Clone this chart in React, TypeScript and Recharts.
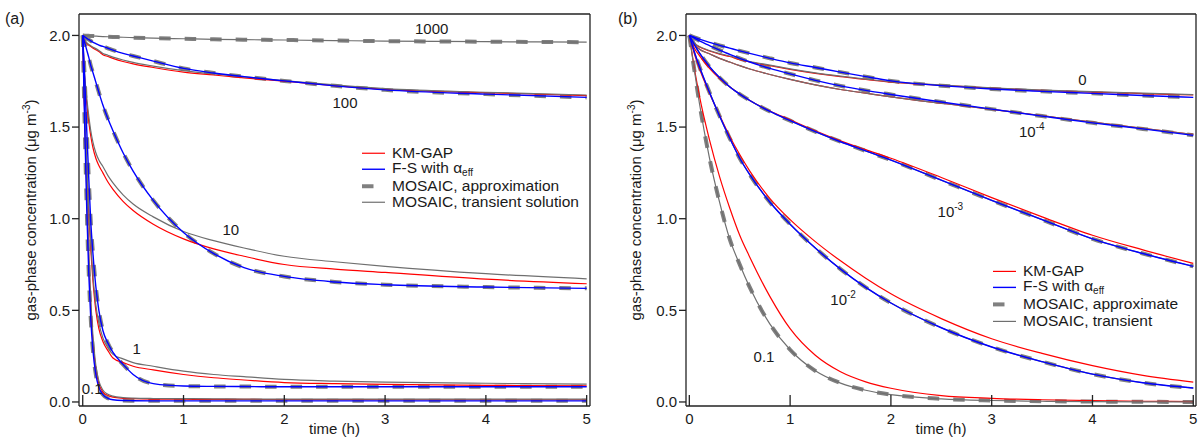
import React from 'react';
import { LineChart, Line, XAxis, YAxis, ReferenceDot } from 'recharts';

const FONT = '"Liberation Sans", Arial, Helvetica, sans-serif';
const INK = '#1a1a1a';

// time grids (h)
const T_A = [0, 0.02, 0.04, 0.06, 0.08, 0.1, 0.13, 0.16, 0.2, 0.25, 0.3, 0.4, 0.5, 0.7, 1.0, 1.3, 1.6, 2.0, 2.5, 3.0, 4.0, 5.0];
const T_B = [0, 0.05, 0.1, 0.2, 0.3, 0.4, 0.5, 0.6, 0.8, 1.0, 1.25, 1.5, 1.75, 2.0, 2.5, 3.0, 3.5, 4.0, 4.5, 5.0];

// panel (a): gas-phase concentration, one curve family per label
const A_MO_1000 = [2.0, 1.999, 1.998, 1.998, 1.997, 1.997, 1.996, 1.995, 1.994, 1.993, 1.992, 1.99, 1.988, 1.985, 1.982, 1.979, 1.977, 1.975, 1.972, 1.969, 1.966, 1.963];
const A_KM_100 = [2.0, 1.97, 1.957, 1.947, 1.94, 1.932, 1.922, 1.912, 1.895, 1.885, 1.875, 1.858, 1.845, 1.825, 1.8, 1.784, 1.768, 1.75, 1.726, 1.706, 1.688, 1.672];
const A_TR_100 = [2.0, 1.972, 1.96, 1.951, 1.944, 1.937, 1.928, 1.918, 1.902, 1.892, 1.882, 1.866, 1.853, 1.833, 1.808, 1.79, 1.774, 1.754, 1.73, 1.71, 1.69, 1.675];
const A_FS_100 = [2.0, 1.992, 1.984, 1.977, 1.97, 1.963, 1.955, 1.947, 1.94, 1.93, 1.92, 1.902, 1.888, 1.86, 1.82, 1.795, 1.775, 1.752, 1.725, 1.703, 1.68, 1.662];
const A_KM_10 = [2.0, 1.76, 1.63, 1.53, 1.45, 1.39, 1.33, 1.29, 1.25, 1.2, 1.16, 1.095, 1.045, 0.97, 0.89, 0.835, 0.795, 0.75, 0.725, 0.707, 0.67, 0.645];
const A_TR_10 = [2.0, 1.78, 1.66, 1.56, 1.48, 1.42, 1.36, 1.32, 1.285, 1.235, 1.195, 1.13, 1.08, 1.01, 0.93, 0.88, 0.84, 0.795, 0.765, 0.74, 0.7, 0.672];
const A_FS_10 = [2.0, 1.96, 1.92, 1.88, 1.835, 1.8, 1.745, 1.69, 1.62, 1.545, 1.48, 1.36, 1.26, 1.1, 0.925, 0.81, 0.733, 0.685, 0.655, 0.64, 0.627, 0.62];
const A_KM_1 = [2.0, 1.56, 1.27, 1.03, 0.83, 0.67, 0.5, 0.4, 0.33, 0.28, 0.24, 0.215, 0.195, 0.175, 0.15, 0.132, 0.12, 0.106, 0.1, 0.096, 0.091, 0.088];
const A_TR_1 = [2.0, 1.58, 1.3, 1.06, 0.86, 0.7, 0.53, 0.43, 0.35, 0.295, 0.26, 0.235, 0.215, 0.195, 0.168, 0.15, 0.138, 0.123, 0.114, 0.108, 0.102, 0.097];
const A_FS_1 = [2.0, 1.76, 1.48, 1.22, 0.98, 0.82, 0.63, 0.5, 0.39, 0.32, 0.27, 0.205, 0.15, 0.1, 0.087, 0.085, 0.084, 0.083, 0.083, 0.083, 0.083, 0.083];
const A_KM_01 = [2.0, 1.55, 1.15, 0.78, 0.52, 0.34, 0.18, 0.1, 0.055, 0.035, 0.026, 0.02, 0.018, 0.016, 0.015, 0.014, 0.014, 0.013, 0.013, 0.012, 0.012, 0.012];
const A_TR_01 = [2.0, 1.58, 1.19, 0.82, 0.56, 0.37, 0.2, 0.115, 0.065, 0.042, 0.032, 0.024, 0.021, 0.019, 0.018, 0.017, 0.016, 0.016, 0.015, 0.015, 0.015, 0.015];
const A_FS_01 = [2.0, 1.5, 1.05, 0.7, 0.45, 0.29, 0.15, 0.08, 0.04, 0.02, 0.012, 0.008, 0.007, 0.006, 0.006, 0.006, 0.006, 0.006, 0.006, 0.006, 0.006, 0.006];

// panel (b)
const B_KM_0 = [2.0, 1.955, 1.937, 1.915, 1.898, 1.885, 1.868, 1.855, 1.835, 1.815, 1.793, 1.775, 1.76, 1.745, 1.728, 1.712, 1.7, 1.691, 1.683, 1.675];
const B_TR_0 = [2.0, 1.958, 1.94, 1.918, 1.901, 1.888, 1.871, 1.858, 1.838, 1.818, 1.796, 1.778, 1.762, 1.747, 1.73, 1.714, 1.702, 1.693, 1.685, 1.677];
const B_FS_0 = [2.0, 1.99, 1.98, 1.962, 1.946, 1.931, 1.916, 1.902, 1.875, 1.85, 1.825, 1.8, 1.775, 1.752, 1.726, 1.708, 1.695, 1.684, 1.672, 1.662];
const B_KM_4 = [2.0, 1.95, 1.925, 1.9, 1.875, 1.855, 1.835, 1.817, 1.787, 1.76, 1.73, 1.705, 1.685, 1.665, 1.63, 1.597, 1.562, 1.527, 1.493, 1.46];
const B_FS_4 = [2.0, 1.985, 1.97, 1.945, 1.92, 1.897, 1.875, 1.855, 1.82, 1.79, 1.755, 1.725, 1.7, 1.678, 1.637, 1.598, 1.56, 1.523, 1.49, 1.455];
const B_KM_3 = [2.0, 1.93, 1.89, 1.82, 1.765, 1.72, 1.68, 1.645, 1.588, 1.54, 1.48, 1.425, 1.377, 1.33, 1.225, 1.115, 1.01, 0.91, 0.83, 0.756];
const B_FS_3 = [2.0, 1.95, 1.905, 1.83, 1.77, 1.72, 1.68, 1.645, 1.585, 1.535, 1.475, 1.42, 1.37, 1.32, 1.21, 1.1, 0.995, 0.89, 0.81, 0.74];
const B_KM_2 = [2.0, 1.9, 1.82, 1.685, 1.565, 1.45, 1.35, 1.26, 1.11, 0.995, 0.875, 0.77, 0.675, 0.59, 0.455, 0.345, 0.265, 0.198, 0.145, 0.108];
const B_FS_2 = [2.0, 1.91, 1.83, 1.69, 1.56, 1.44, 1.33, 1.24, 1.09, 0.97, 0.84, 0.725, 0.625, 0.54, 0.405, 0.3, 0.22, 0.152, 0.105, 0.076];
const B_KM_01 = [2.0, 1.82, 1.67, 1.43, 1.23, 1.06, 0.91, 0.79, 0.575, 0.4, 0.255, 0.165, 0.11, 0.075, 0.035, 0.02, 0.012, 0.007, 0.004, 0.002];
const B_MO_01 = [2.0, 1.81, 1.63, 1.33, 1.09, 0.89, 0.75, 0.625, 0.425, 0.285, 0.17, 0.103, 0.064, 0.04, 0.017, 0.008, 0.004, 0.002, 0.001, 0.0];

const X_TICKS = [0, 1, 2, 3, 4, 5];
const Y_TICKS = [0, 0.5, 1, 1.5, 2];
const Y_DOMAIN: [number, number] = [-0.022, 2.117];

type Kind = 'km' | 'fs' | 'mosaic' | 'transient';

const STYLE: Record<Kind, { stroke: string; width: number; dash?: string }> = {
  km: { stroke: '#ff0000', width: 1.2 },
  fs: { stroke: '#0000ff', width: 1.4 },
  mosaic: { stroke: '#808080', width: 4, dash: '11.5 14' },
  transient: { stroke: '#6f6f6f', width: 1.2 },
};
// dashed underneath so blue shows through it
const DRAW_ORDER: Kind[] = ['mosaic', 'km', 'transient', 'fs'];
const LEGEND_ORDER: Kind[] = ['km', 'fs', 'mosaic', 'transient'];

type Series = { kind: Kind; values: number[] };

const SERIES_A: Series[] = [
  { kind: 'mosaic', values: A_MO_1000 },
  { kind: 'transient', values: A_MO_1000 },
  { kind: 'km', values: A_KM_100 },
  { kind: 'transient', values: A_TR_100 },
  { kind: 'fs', values: A_FS_100 },
  { kind: 'mosaic', values: A_FS_100 },
  { kind: 'km', values: A_KM_10 },
  { kind: 'transient', values: A_TR_10 },
  { kind: 'fs', values: A_FS_10 },
  { kind: 'mosaic', values: A_FS_10 },
  { kind: 'km', values: A_KM_1 },
  { kind: 'transient', values: A_TR_1 },
  { kind: 'fs', values: A_FS_1 },
  { kind: 'mosaic', values: A_FS_1 },
  { kind: 'km', values: A_KM_01 },
  { kind: 'transient', values: A_TR_01 },
  { kind: 'fs', values: A_FS_01 },
  { kind: 'mosaic', values: A_FS_01 },
];

const SERIES_B: Series[] = [
  { kind: 'km', values: B_KM_0 },
  { kind: 'transient', values: B_TR_0 },
  { kind: 'fs', values: B_FS_0 },
  { kind: 'mosaic', values: B_FS_0 },
  { kind: 'km', values: B_KM_4 },
  { kind: 'transient', values: B_KM_4 },
  { kind: 'fs', values: B_FS_4 },
  { kind: 'mosaic', values: B_FS_4 },
  { kind: 'km', values: B_KM_3 },
  { kind: 'transient', values: B_FS_3 },
  { kind: 'fs', values: B_FS_3 },
  { kind: 'mosaic', values: B_FS_3 },
  { kind: 'km', values: B_KM_2 },
  { kind: 'transient', values: B_FS_2 },
  { kind: 'fs', values: B_FS_2 },
  { kind: 'mosaic', values: B_FS_2 },
  { kind: 'km', values: B_KM_01 },
  { kind: 'transient', values: B_MO_01 },
  { kind: 'mosaic', values: B_MO_01 },
];

type Note = { t: number; v: number; text: string; exp?: string; anchor?: 'start' | 'middle' };

const NOTES_A: Note[] = [
  { t: 3.462, v: 2.039, text: '1000' },
  { t: 2.602, v: 1.633, text: '100' },
  { t: 1.469, v: 0.943, text: '10' },
  { t: 0.536, v: 0.293, text: '1' },
  { t: 0.094, v: 0.075, text: '0.1' },
];

const NOTES_B: Note[] = [
  { t: 3.901, v: 1.757, text: '0' },
  { t: 3.271, v: 1.475, text: '10', exp: '-4', anchor: 'start' },
  { t: 2.463, v: 1.038, text: '10', exp: '-3', anchor: 'start' },
  { t: 1.399, v: 0.556, text: '10', exp: '-2', anchor: 'start' },
  { t: 0.741, v: 0.247, text: '0.1' },
];

const LEGEND_A = ['KM-GAP', 'F-S with α', 'MOSAIC, approximation', 'MOSAIC, transient solution'];
const LEGEND_B = ['KM-GAP', 'F-S with α', 'MOSAIC, approximate', 'MOSAIC, transient'];

const AXIS = { stroke: '#222', strokeWidth: 1.3 };
const TICK_TEXT = { fill: INK, fontSize: 15 };

interface PanelProps {
  width: number;
  yAxisWidth: number;
  rightMargin: number;
  rightAxisWidth: number;
  xDomain: [number, number];
  times: number[];
  series: Series[];
  notes: Note[];
}

const Panel: React.FC<PanelProps> = ({ width, yAxisWidth, rightMargin, rightAxisWidth, xDomain, times, series, notes }) => {
  const ordered = DRAW_ORDER.flatMap((k) => series.filter((s) => s.kind === k));
  return (
    <LineChart width={width} height={446} margin={{ top: 4, right: rightMargin, bottom: 0, left: 0 }}>
      <XAxis
        xAxisId="bottom"
        type="number"
        dataKey="t"
        domain={xDomain}
        allowDataOverflow
        ticks={X_TICKS}
        tickSize={-11}
        tickMargin={18}
        height={40}
        axisLine={AXIS}
        tickLine={AXIS}
        tick={TICK_TEXT}
        label={{ value: 'time (h)', position: 'insideBottom', offset: 12, fill: INK, fontSize: 15 }}
      />
      <XAxis
        xAxisId="top"
        orientation="top"
        type="number"
        domain={xDomain}
        allowDataOverflow
        ticks={X_TICKS}
        tickSize={-11}
        height={10}
        axisLine={AXIS}
        tickLine={AXIS}
        tick={false}
      />
      <YAxis
        yAxisId="left"
        type="number"
        domain={Y_DOMAIN}
        allowDataOverflow
        ticks={Y_TICKS}
        tickFormatter={(v: number) => v.toFixed(1)}
        width={yAxisWidth}
        tickSize={7}
        tickMargin={2}
        axisLine={AXIS}
        tickLine={AXIS}
        tick={TICK_TEXT}
      />
      <YAxis
        yAxisId="right"
        orientation="right"
        type="number"
        domain={Y_DOMAIN}
        allowDataOverflow
        ticks={Y_TICKS}
        width={rightAxisWidth}
        tickSize={-11}
        axisLine={AXIS}
        tickLine={AXIS}
        tick={false}
      />
      {ordered.map((s, i) => {
        const st = STYLE[s.kind];
        return (
          <Line
            key={`${s.kind}-${i}`}
            xAxisId="bottom"
            yAxisId="left"
            data={times.map((t, j) => ({ t, v: s.values[j] }))}
            dataKey="v"
            type="monotone"
            stroke={st.stroke}
            strokeWidth={st.width}
            strokeDasharray={st.dash}
            dot={false}
            activeDot={false}
            isAnimationActive={false}
          />
        );
      })}
      {notes.map((n, i) => (
        <ReferenceDot
          key={`note-${i}`}
          xAxisId="bottom"
          yAxisId="left"
          x={n.t}
          y={n.v}
          r={1}
          shape={(p: any) => (
            <text x={p.cx} y={p.cy} dy="0.36em" textAnchor={n.anchor ?? 'middle'} fontSize={15} fill={INK}>
              {n.text}
              {n.exp && (
                <tspan dy={-7} fontSize={10}>
                  {n.exp}
                </tspan>
              )}
            </text>
          )}
        />
      ))}
    </LineChart>
  );
};

const LegendBox: React.FC<{ left: number; top: number; rowH: number; labels: string[] }> = ({ left, top, rowH, labels }) => (
  <div style={{ position: 'absolute', left, top, fontSize: 15.5, lineHeight: `${rowH}px`, color: INK, whiteSpace: 'nowrap' }}>
    {LEGEND_ORDER.map((k, i) => {
      const st = STYLE[k];
      return (
        <div key={k} style={{ height: rowH, display: 'flex', alignItems: 'center' }}>
          <svg width={23} height={rowH} style={{ marginRight: 7, flex: 'none' }}>
            <line x1={0} x2={23} y1={rowH / 2} y2={rowH / 2} stroke={st.stroke} strokeWidth={st.width} strokeDasharray={st.dash} />
          </svg>
          <span>
            {labels[i]}
            {k === 'fs' && <span style={{ fontSize: 10, position: 'relative', top: 3 }}>eff</span>}
          </span>
        </div>
      );
    })}
  </div>
);

const YTitle: React.FC<{ x: number; y: number }> = ({ x, y }) => (
  <div
    style={{
      position: 'absolute',
      left: x,
      top: y,
      transform: 'translate(-50%, -50%) rotate(-90deg)',
      whiteSpace: 'nowrap',
      fontSize: 15,
      lineHeight: '17px',
      color: INK,
    }}
  >
    gas-phase concentration (μg m<sup style={{ fontSize: 10, lineHeight: 0 }}>-3</sup>)
  </div>
);

export default function App() {
  return (
    <div style={{ position: 'absolute', left: 0, top: 0, width: 1198, height: 446, background: '#fff', fontFamily: FONT, overflow: 'hidden' }}>
      <div style={{ position: 'absolute', left: 0, top: 0 }}>
        <Panel width={600} yAxisWidth={79} rightMargin={5} rightAxisWidth={5} xDomain={[-0.037, 5.033]} times={T_A} series={SERIES_A} notes={NOTES_A} />
      </div>
      <div style={{ position: 'absolute', left: 600, top: 0 }}>
        <Panel width={598} yAxisWidth={86} rightMargin={0} rightAxisWidth={2} xDomain={[-0.033, 5.027]} times={T_B} series={SERIES_B} notes={NOTES_B} />
      </div>
      <div style={{ position: 'absolute', left: 5, top: 10, fontSize: 16, lineHeight: '18px', color: INK }}>(a)</div>
      <div style={{ position: 'absolute', left: 618, top: 10, fontSize: 16, lineHeight: '18px', color: INK }}>(b)</div>
      <YTitle x={30} y={210} />
      <YTitle x={635} y={210} />
      <LegendBox left={362} top={144.75} rowH={16.5} labels={LEGEND_A} />
      <LegendBox left={993} top={262.5} rowH={16.8} labels={LEGEND_B} />
    </div>
  );
}
